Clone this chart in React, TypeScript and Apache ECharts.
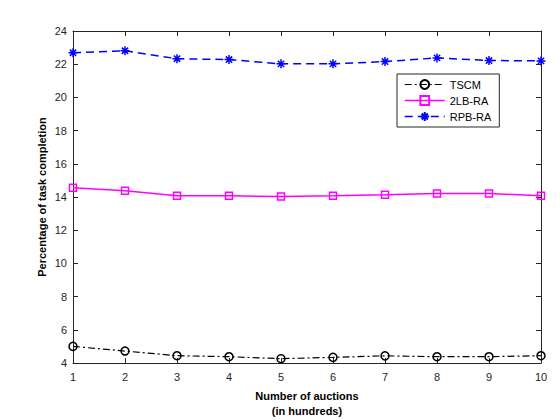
import React, { useEffect, useRef } from "react";
import * as echarts from "echarts";

// Number of auctions (in hundreds)
const auctions = [1, 2, 3, 4, 5, 6, 7, 8, 9, 10];
const tscm = [5.0, 4.72, 4.44, 4.38, 4.26, 4.34, 4.43, 4.38, 4.38, 4.44];
const lbra = [14.55, 14.37, 14.07, 14.07, 14.03, 14.07, 14.13, 14.21, 14.21, 14.07];
const rpbra = [22.69, 22.81, 22.33, 22.28, 22.02, 22.02, 22.16, 22.38, 22.22, 22.2];

const seriesNames = ["TSCM", "2LB-RA", "RPB-RA"];

// eight-armed star marker drawn with strokes
const asterisk = "path://M0,-10L0,10M-10,0L10,0M-7,-7L7,7M-7,7L7,-7";

const dashDot = [7, 3, 2, 3];
const dashed = [8, 5];

const axisText = { color: "#262626", fontSize: 11, fontFamily: "Liberation Sans, Arial, sans-serif" };

export default function App() {
  const ref = useRef<HTMLDivElement>(null);

  useEffect(() => {
    document.body.style.margin = "0";
    if (!ref.current) return;
    const chart = echarts.init(ref.current, undefined, { renderer: "svg" });
    const toPairs = (vals: number[]) => auctions.map((x, i) => [x, vals[i]]);
    const axisLine = { show: true, lineStyle: { color: "#262626", width: 1 } };
    const tick = { show: true, inside: true, length: 5, lineStyle: { color: "#262626" } };

    chart.setOption({
      animation: false,
      backgroundColor: "#fff",
      grid: { left: 73, right: 19, top: 31, bottom: 57, containLabel: false },
      xAxis: [
        {
          type: "value", min: 1, max: 10, interval: 1,
          axisLine, axisTick: tick, splitLine: { show: false },
          axisLabel: { ...axisText, margin: 8 },
        },
        {
          type: "value", min: 1, max: 10, interval: 1, position: "top",
          axisLine, axisTick: tick, splitLine: { show: false }, axisLabel: { show: false },
        },
      ],
      yAxis: [
        {
          type: "value", min: 4, max: 24, interval: 2,
          axisLine, axisTick: tick, splitLine: { show: false },
          axisLabel: { ...axisText, margin: 6 },
        },
        {
          type: "value", min: 4, max: 24, interval: 2, position: "right",
          axisLine, axisTick: tick, splitLine: { show: false }, axisLabel: { show: false },
        },
      ],
      legend: {
        orient: "vertical",
        left: 397,
        top: 74,
        data: [
          { name: seriesNames[0], lineStyle: { type: dashDot, width: 1.2 } },
          { name: seriesNames[1], lineStyle: { type: "solid", width: 1.5 } },
          { name: seriesNames[2], lineStyle: { type: dashed, width: 1.5 } },
        ],
        backgroundColor: "#fff",
        borderColor: "#262626",
        borderWidth: 1,
        borderRadius: 0,
        padding: [5, 8, 5, 7],
        itemGap: 5,
        itemWidth: 40,
        itemHeight: 11,
        textStyle: { color: "#000", fontSize: 11, fontFamily: "Liberation Sans, Arial, sans-serif" },
      },
      series: [
        {
          name: "TSCM", type: "line", data: toPairs(tscm),
          symbol: "circle", symbolSize: 8,
          lineStyle: { color: "#000", width: 1.2, type: dashDot },
          itemStyle: { color: "rgba(0,0,0,0)", borderColor: "#000", borderWidth: 1.5 },
        },
        {
          name: "2LB-RA", type: "line", data: toPairs(lbra),
          symbol: "rect", symbolSize: 7,
          lineStyle: { color: "#ff00ff", width: 1.5, type: "solid" },
          itemStyle: { color: "rgba(0,0,0,0)", borderColor: "#ff00ff", borderWidth: 1.5 },
        },
        {
          name: "RPB-RA", type: "line", data: toPairs(rpbra),
          symbol: asterisk, symbolSize: 9,
          lineStyle: { color: "#0000ff", width: 1.5, type: dashed },
          itemStyle: { color: "rgba(0,0,0,0)", borderColor: "#0000ff", borderWidth: 1.5 },
        },
      ],
      graphic: [
        {
          type: "text", x: 307, y: 396,
          style: {
            text: "Number of auctions", align: "center", verticalAlign: "middle",
            font: "bold 11px Liberation Sans, Arial, sans-serif", fill: "#000",
          },
        },
        {
          type: "text", x: 307, y: 411,
          style: {
            text: "(in hundreds)", align: "center", verticalAlign: "middle",
            font: "bold 11px Liberation Sans, Arial, sans-serif", fill: "#000",
          },
        },
        {
          type: "text", x: 42, y: 197, rotation: Math.PI / 2,
          style: {
            text: "Percentage of task completion", align: "center", verticalAlign: "middle",
            font: "bold 11px Liberation Sans, Arial, sans-serif", fill: "#000",
          },
        },
      ],
    });
    return () => chart.dispose();
  }, []);

  return <div ref={ref} style={{ width: 560, height: 420 }} />;
}
